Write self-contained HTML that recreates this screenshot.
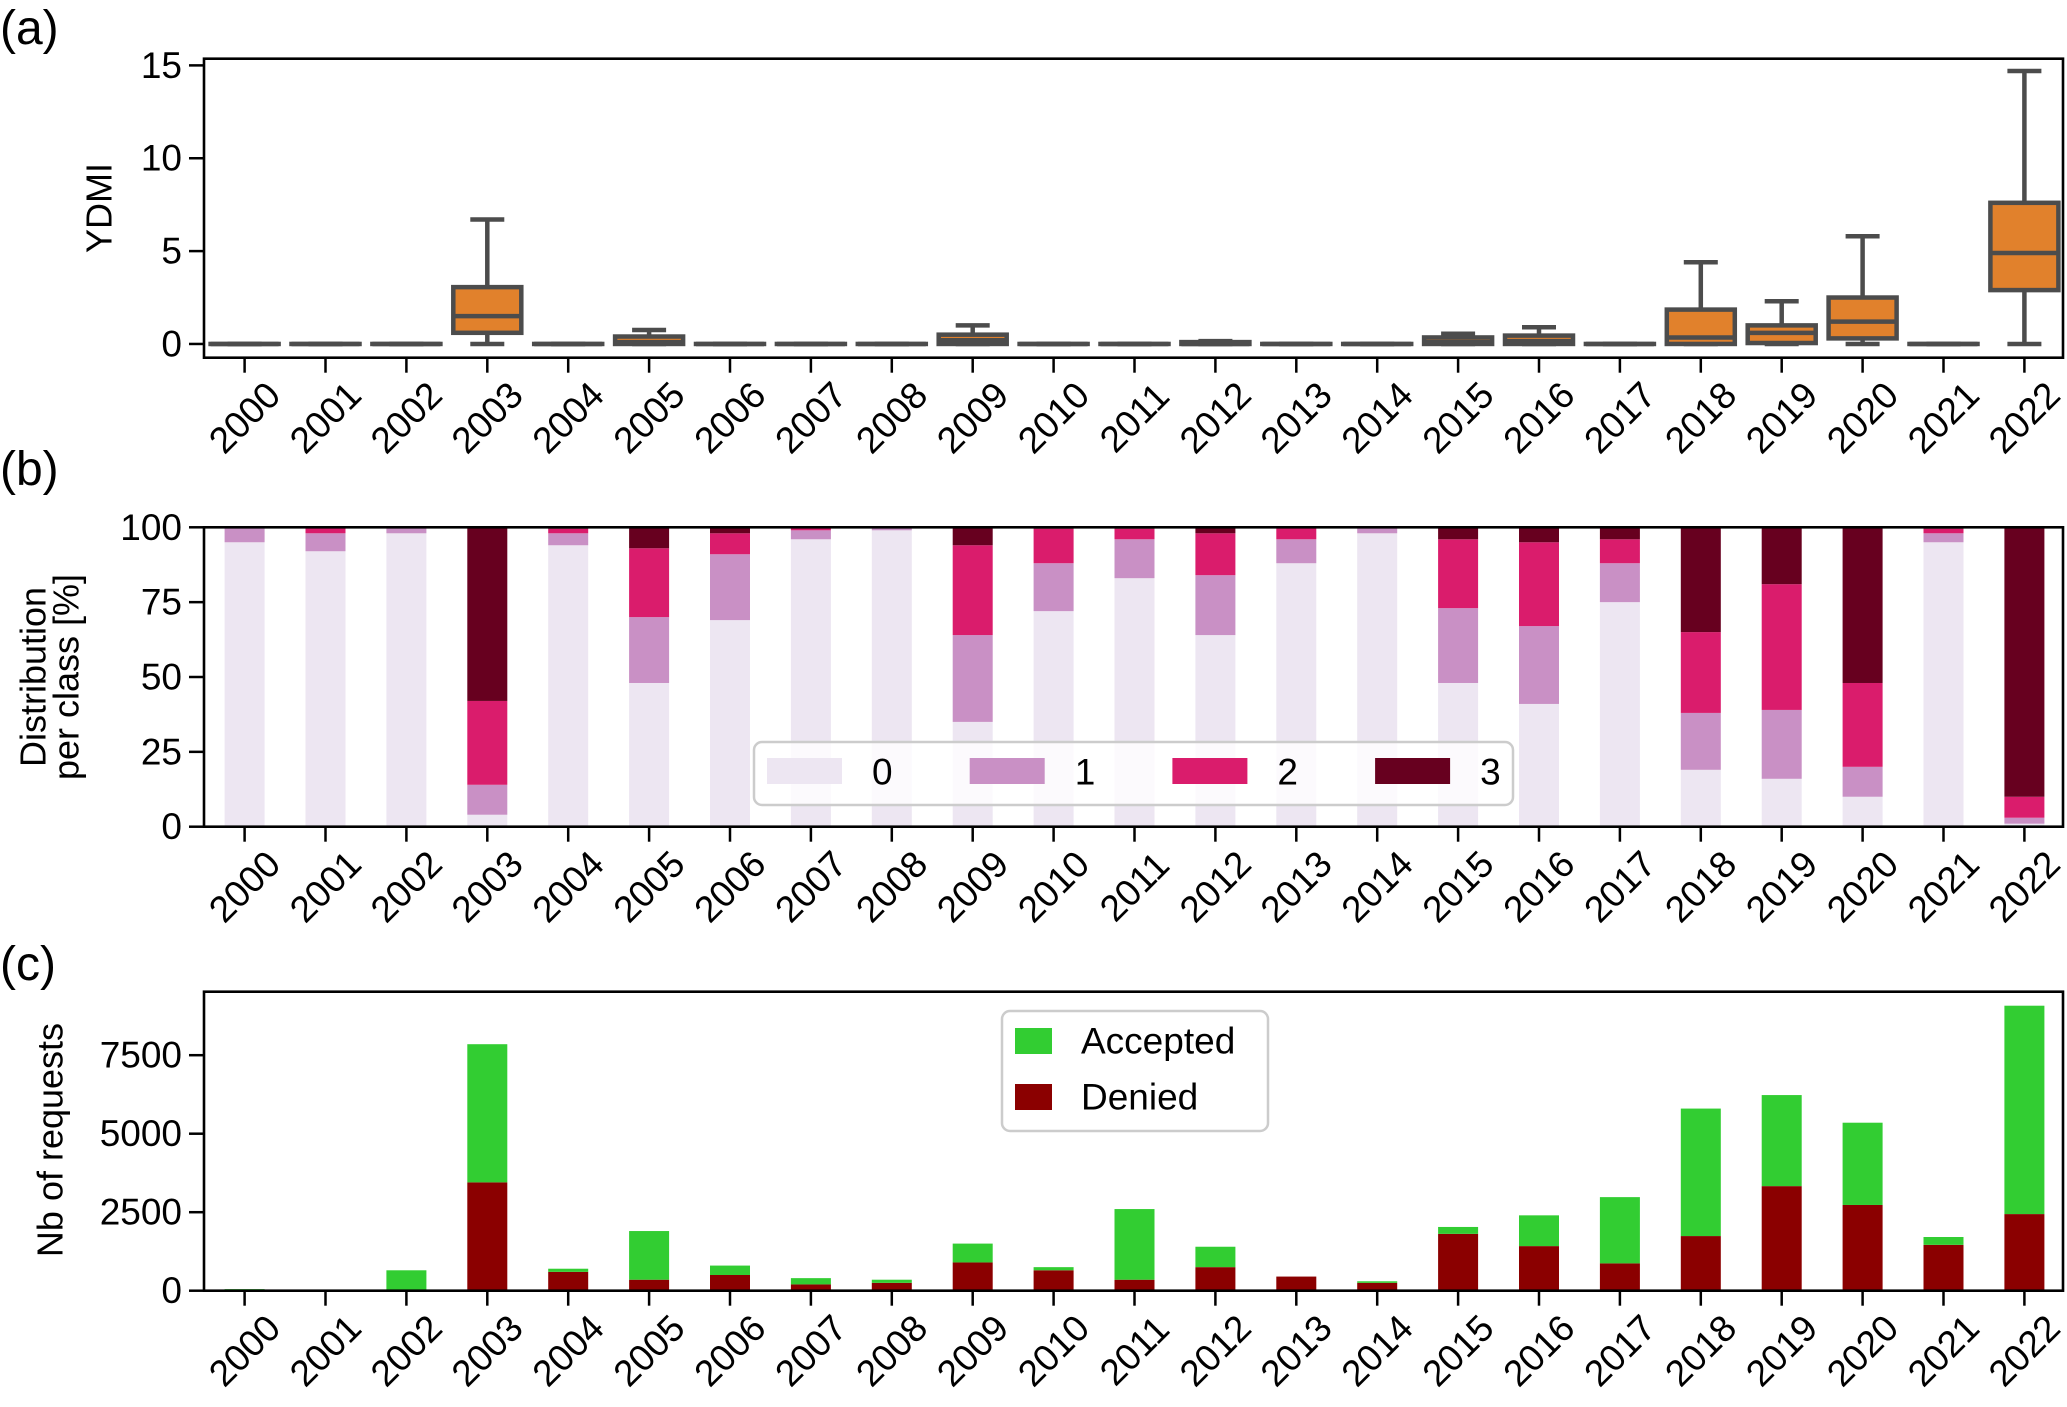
<!DOCTYPE html>
<html><head><meta charset="utf-8"><style>
html,body{margin:0;padding:0;background:#fff;}
svg{display:block;font-family:"Liberation Sans",sans-serif;}
</style></head><body>
<svg id="fig" width="2067" height="1407" viewBox="0 0 2067 1407" xmlns="http://www.w3.org/2000/svg"></svg>
<script>
const years = ["2000","2001","2002","2003","2004","2005","2006","2007","2008","2009","2010","2011","2012","2013","2014","2015","2016","2017","2018","2019","2020","2021","2022"];
// panel a boxplot stats
const boxLo  = [0,0,0,0,0,0,0,0,0,0,0,0,0,0,0,0,0,0,0,0,0,0,0];
const boxQ1  = [0,0,0,0.6,0,0,0,0,0,0,0,0,0,0,0,0,0,0,0,0.05,0.3,0,2.9];
const boxMed = [0,0,0,1.5,0,0.1,0,0,0,0.2,0,0,0,0,0,0.1,0.15,0,0.35,0.6,1.2,0,4.9];
const boxQ3  = [0,0,0,3.06,0,0.4,0,0,0,0.5,0,0,0.1,0,0,0.35,0.45,0,1.85,1.0,2.5,0,7.6];
const boxHi  = [0,0,0,6.7,0,0.75,0,0,0,1.0,0,0,0.15,0,0,0.55,0.9,0,4.4,2.3,5.8,0,14.7];
const ticksA = [0,5,10,15];
// panel b class shares (%)
const class0 = [95,92,98,4,94,48,69,96,99,35,72,83,64,88,98,48,41,75,19,16,10,95,1];
const class1 = [5,6,2,10,4,22,22,3,1,29,16,13,20,8,2,25,26,13,19,23,10,3,2];
const class2 = [0,2,0,28,1.5,23,7,1,0,30,11.5,3.5,14,4,0,23,28,8,27,42,28,1.5,7];
const class3 = [0,0,0,58,0.5,7,2,0,0,6,0.5,0.5,2,0,0,4,5,4,35,19,52,0.5,90];
const ticksB = [0,25,50,75,100];
// panel c requests
const denied = [0,0,0,3450,600,350,500,200,250,900,650,350,750,450,250,1810,1420,870,1740,3330,2730,1460,2440];
const totalReq = [50,0,650,7850,700,1900,800,400,350,1500,750,2600,1400,450,300,2030,2400,2980,5800,6230,5350,1710,9076];
const ticksC = [0,2500,5000,7500];

const NS="http://www.w3.org/2000/svg";
const svg=document.getElementById('fig');
function el(tag,attrs,parent){const e=document.createElementNS(NS,tag);for(const k in attrs)e.setAttribute(k,attrs[k]);(parent||svg).appendChild(e);return e;}
const L=204,R=2063,X0=244.6,DX=80.9;
const FS=37;
function xs(i){return X0+i*DX;}
function axisY(top,bottom,vmin,vmax){return v=>bottom-(v-vmin)/(vmax-vmin)*(bottom-top);}

function frame(top,bottom,name){
  const f=el('rect',{x:L,y:top,width:R-L,height:bottom-top,fill:'none',stroke:'#000','stroke-width':2.6});
  
  
}
function xAxis(bottom,name){
  const g=el('g',{});
  
  
  years.forEach((y,i)=>{
    el('line',{x1:xs(i),x2:xs(i),y1:bottom,y2:bottom+15,stroke:'#000','stroke-width':2.5},g);
    const cx=xs(i),cy=bottom+60;
    const t=el('text',{x:cx,y:cy,'font-size':FS,'text-anchor':'middle','dominant-baseline':'central',transform:`rotate(-45 ${cx} ${cy})`},g);
    t.textContent=y;
  });
}
function yAxis(ticks,ys,name){
  const g=el('g',{});
  
  
  ticks.forEach(v=>{
    const y=ys(v);
    el('line',{x1:L-15,x2:L,y1:y,y2:y,stroke:'#000','stroke-width':2.5},g);
    const t=el('text',{x:L-22,y:y,'font-size':FS,'text-anchor':'end','dominant-baseline':'central'},g);
    t.textContent=v;
  });
}
function label(txt,x,y,size,rot,name){
  const t=el('text',{x:x,y:y,'font-size':size,'text-anchor':rot?'middle':'start','dominant-baseline':rot?'central':'auto'});
  if(rot)t.setAttribute('transform',`rotate(-90 ${x} ${y})`);
  t.textContent=txt;
  
  
  return t;
}

// ---------- Panel a ----------
const aTop=58.7,aBot=357.7;
const ya=axisY(aTop,aBot,-0.74,15.36);
label('(a)',0,44,48,false,'panel-label-a');
label('YDMI',99,208,36,true,'y-axis-title-a');
const gA=el('g',{});


const bw=68,C='#4c4c4c',lw=4.5;
years.forEach((yr,i)=>{
  const g=el('g',{},gA);
  
  
  const cx=xs(i);
  el('line',{x1:cx,x2:cx,y1:ya(boxQ3[i]),y2:ya(boxHi[i]),stroke:C,'stroke-width':lw},g);
  el('line',{x1:cx,x2:cx,y1:ya(boxQ1[i]),y2:ya(boxLo[i]),stroke:C,'stroke-width':lw},g);
  el('line',{x1:cx-bw/4,x2:cx+bw/4,y1:ya(boxHi[i]),y2:ya(boxHi[i]),stroke:C,'stroke-width':lw},g);
  el('line',{x1:cx-bw/4,x2:cx+bw/4,y1:ya(boxLo[i]),y2:ya(boxLo[i]),stroke:C,'stroke-width':lw},g);
  const top=ya(boxQ3[i]),bot=ya(boxQ1[i]);
  el('rect',{x:cx-bw/2,y:top,width:bw,height:Math.max(bot-top,0.01),fill:'#e1812c',stroke:C,'stroke-width':lw},g);
  el('line',{x1:cx-bw/2,x2:cx+bw/2,y1:ya(boxMed[i]),y2:ya(boxMed[i]),stroke:C,'stroke-width':lw},g);
});
frame(aTop,aBot,'panel-a');
xAxis(aBot,'panel-a');
yAxis(ticksA,ya,'panel-a');

// ---------- Panel b ----------
const bTop=527.3,bBot=826.7;
const yb=axisY(bTop,bBot,0,100);
label('(b)',0,485,48,false,'panel-label-b');
label('Distribution',33,677,36,true,'y-axis-title-b-line1');
label('per class [%]',66,677,36,true,'y-axis-title-b-line2');
const classes=[class0,class1,class2,class3];
const classColors=['#ede6f2','#c990c5','#da1c6c','#67001f'];
const gB=el('g',{});


const barW=40;
years.forEach((yr,i)=>{
  let acc=0;
  classes.forEach((arr,k)=>{
    const v=arr[i];
    const r=el('rect',{x:xs(i)-barW/2,y:yb(acc+v),width:barW,height:yb(acc)-yb(acc+v),fill:classColors[k]},gB);
    
    
    acc+=v;
  });
});
frame(bTop,bBot,'panel-b');
xAxis(bBot,'panel-b');
yAxis(ticksB,yb,'panel-b');
// legend b
const lgB=el('g',{});


el('rect',{x:754,y:742,width:759,height:63,rx:8,fill:'rgba(255,255,255,0.8)',stroke:'#cccccc','stroke-width':2.5},lgB);
['0','1','2','3'].forEach((lab,k)=>{
  const g=el('g',{},lgB);
  
  
  const x=767+k*202.7;
  el('rect',{x:x,y:758,width:75,height:26,fill:classColors[k]},g);
  const t=el('text',{x:x+105,y:772,'font-size':FS,'dominant-baseline':'central'},g);
  t.textContent=lab;
});

// ---------- Panel c ----------
const cTop=991.7,cBot=1290.7;
const yc=axisY(cTop,cBot,0,9522);
label('(c)',0,980,48,false,'panel-label-c');
label('Nb of requests',50,1140,36,true,'y-axis-title-c');
const gC=el('g',{});


years.forEach((yr,i)=>{
  const d=denied[i],t=totalReq[i];
  const r1=el('rect',{x:xs(i)-barW/2,y:yc(d),width:barW,height:yc(0)-yc(d),fill:'#8b0000'},gC);
  
  
  const r2=el('rect',{x:xs(i)-barW/2,y:yc(t),width:barW,height:Math.max(yc(d)-yc(t),0),fill:'#32cd32'},gC);
  
  
});
frame(cTop,cBot,'panel-c');
xAxis(cBot,'panel-c');
yAxis(ticksC,yc,'panel-c');
// legend c
const lgC=el('g',{});


el('rect',{x:1002,y:1011,width:266,height:120,rx:8,fill:'rgba(255,255,255,0.8)',stroke:'#cccccc','stroke-width':2.5},lgC);
[['Accepted','#32cd32',1041],['Denied','#8b0000',1097]].forEach(([lab,col,cy])=>{
  const g=el('g',{},lgC);
  
  
  el('rect',{x:1015,y:cy-13,width:37,height:26,fill:col},g);
  const t=el('text',{x:1081,y:cy,'font-size':FS,'dominant-baseline':'central'},g);
  t.textContent=lab;
});
</script>
</body></html>
